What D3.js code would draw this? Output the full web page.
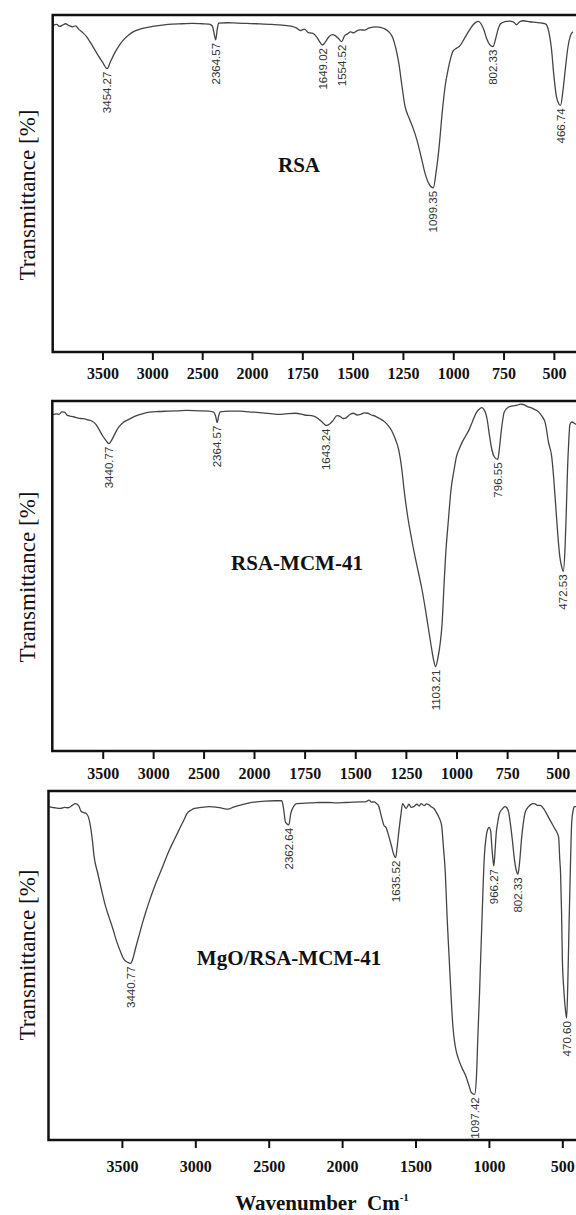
<!DOCTYPE html>
<html lang="en">
<head>
<meta charset="utf-8">
<title>FTIR spectra</title>
<script src="https://d3js.org/d3.v7.min.js"></script>
<style>
  body { margin: 0; background: #fff; }
  .axis .tick text { font-family: "Liberation Serif", serif; font-weight: bold; font-size: 16px; fill: #111; }
  .axis .tick line { stroke: #111; stroke-width: 2; }
  .frame { fill: none; stroke: #111; stroke-width: 2.5; }
  .spectrum { fill: none; stroke: #444; stroke-width: 1.3; }
  .peak { font-family: "Liberation Sans", sans-serif; font-size: 11.5px; fill: #333; }
  .title { font-family: "Liberation Serif", serif; font-weight: bold; font-size: 21px; fill: #111; }
  .ylabel { font-family: "Liberation Serif", serif; font-size: 23px; fill: #111; }
  .xlabel { font-family: "Liberation Serif", serif; font-weight: bold; font-size: 21px; fill: #111; }
</style>
</head>
<body>
<script>
// tick labels
var ticksExpanded = [3500, 3000, 2500, 2000, 1750, 1500, 1250, 1000, 750, 500];
var ticksLinear = [3500, 3000, 2500, 2000, 1500, 1000, 500];

// RSA spectrum (wavenumber cm-1, transmittance % of panel)
var rsaWave = [4000, 3960, 3930, 3900, 3870, 3840, 3800, 3770, 3740, 3700, 3660, 3620, 3580, 3540, 3500, 3454.27,
  3420, 3380, 3340, 3290, 3240, 3180, 3100, 3000, 2900, 2800, 2700, 2600, 2500, 2430, 2400, 2380, 2364.57, 2350, 2335,
  2250, 2150, 2050, 1980, 1900, 1850, 1800, 1780, 1760, 1740, 1720, 1700, 1680, 1665, 1649.02, 1635, 1620, 1600, 1585,
  1570, 1554.52, 1540, 1525, 1510, 1495, 1480, 1460, 1440, 1420, 1400, 1380, 1360, 1340, 1320, 1300, 1285, 1270, 1255,
  1240, 1220, 1200, 1180, 1160, 1140, 1120, 1099.35, 1085, 1070, 1055, 1040, 1025, 1010, 1000, 985, 965, 945, 925, 905,
  888, 875, 862, 848, 835, 820, 802.33, 790, 778, 765, 745, 720, 700, 685, 670, 650, 620, 590, 560, 540, 525, 512, 500,
  488, 475, 466.74, 455, 443, 430, 418, 405];
var rsaTrans = [96.8, 97.2, 96.6, 97.0, 97.4, 96.9, 96.5, 96.8, 95.8, 94.8, 93.6, 91.8, 89.8, 87.8, 86.0, 84.1,
  86.2, 88.6, 90.6, 92.6, 94.0, 95.2, 96.0, 96.6, 97.0, 97.3, 97.4, 97.5, 97.4, 97.3, 96.8, 94.5, 92.6, 95.5, 97.6,
  97.7, 97.6, 97.5, 97.4, 97.2, 97.0, 96.6, 96.2, 95.4, 95.8, 94.8, 94.6, 93.6, 92.2, 91.1, 92.0, 93.4, 94.2, 93.8,
  93.0, 92.1, 93.8, 94.4, 95.0, 94.7, 95.3, 95.6, 95.5, 96.1, 96.4, 96.5, 96.3, 95.9, 95.0, 93.2, 90.0, 85.5, 79.0,
  73.0, 69.5, 66.5, 62.8, 58.0, 53.0, 49.8, 48.7, 53.5, 61.0, 71.0, 79.0, 84.0, 87.8, 89.4, 90.1, 91.0, 93.0, 95.0, 96.8,
  97.8, 98.1, 97.4, 95.6, 93.2, 91.3, 90.6, 92.8, 95.6, 97.4, 98.0, 98.2, 97.9, 97.1, 98.0, 98.3, 98.0, 97.8, 97.6, 97.3, 95.0, 90.0, 82.0,
  76.0, 73.6, 73.2, 77.5, 84.0, 90.5, 93.8, 95.0];
var rsaPeaks = [3454.27, 2364.57, 1649.02, 1554.52, 1099.35, 802.33, 466.74];

// RSA-MCM-41 spectrum
var mcmWave = [4000, 3960, 3933, 3905, 3879, 3850, 3825, 3790, 3753, 3720, 3681, 3645, 3609, 3570, 3537, 3500, 3465,
  3440.77, 3410, 3380, 3340, 3300, 3250, 3177, 3100, 3033, 2950, 2853, 2750, 2673, 2550, 2450, 2400, 2382, 2364.57,
  2350, 2335, 2250, 2133, 2050, 1973, 1920, 1866, 1830, 1795, 1750, 1705, 1680, 1660, 1643.24, 1625, 1610, 1590, 1575,
  1560, 1545, 1525, 1509, 1490, 1473, 1455, 1438, 1420, 1402, 1380, 1360, 1340, 1320, 1300, 1286, 1270, 1259, 1241,
  1223, 1205, 1188, 1170, 1155, 1140, 1125, 1113, 1103.21, 1092, 1080, 1071, 1062, 1054, 1040, 1027, 1013, 1000, 985,
  973, 955, 937, 920, 902, 885, 875, 865, 857, 848, 839, 825, 813, 796.55, 788, 780, 772, 765, 745, 723, 700, 685, 670,
  650, 634, 615, 598, 580, 562, 545, 530, 520, 510, 500, 490, 480, 472.53, 464, 458, 452, 446, 440, 430, 415, 400];
var mcmTrans = [96.0, 96.3, 96.2, 96.9, 96.8, 95.9, 95.7, 95.5, 95.2, 95.0, 94.9, 94.6, 94.3, 93.4, 91.9, 90.0, 88.6,
  87.8, 88.9, 90.6, 92.6, 93.8, 94.6, 95.7, 96.4, 96.8, 97.0, 97.1, 97.2, 97.3, 97.2, 97.1, 96.8, 95.8, 93.8,
  95.8, 96.9, 97.1, 97.1, 96.9, 96.7, 96.4, 96.2, 96.4, 96.5, 96.0, 95.7, 94.8, 93.8, 93.0, 93.5, 94.4, 95.8, 95.6,
  95.0, 95.2, 96.2, 96.5, 96.0, 96.2, 96.6, 96.5, 96.0, 95.7, 95.0, 94.3, 93.2, 91.5, 88.8, 86.2, 80.5, 74.7, 67.0,
  61.0, 55.6, 51.0, 46.0, 41.0, 35.5, 30.0, 26.0, 24.1, 26.5, 31.0, 36.5, 47.0, 55.6, 66.0, 74.7, 80.0, 84.2, 86.5,
  88.1, 90.0, 91.9, 94.3, 96.7, 97.8, 98.1, 97.6, 96.7, 94.5, 90.9, 86.0, 84.0, 83.3, 86.5, 90.9, 94.5, 96.7, 98.2, 98.6, 98.8, 99.1, 99.0,
  98.4, 98.1, 97.6, 97.1, 95.8, 93.8, 88.0, 84.2, 78.0, 70.0, 62.0, 55.6, 52.5, 51.3, 58.0, 68.0, 80.0, 88.0, 93.3, 94.0, 93.5, 93.0];
var mcmPeaks = [3440.77, 2364.57, 1643.24, 1103.21, 796.55, 472.53];

// MgO/RSA-MCM-41 spectrum
var mgoWave = [4000, 3960, 3918, 3890, 3867, 3840, 3817, 3795, 3778, 3760, 3741, 3728, 3715, 3700, 3690, 3665, 3639,
  3615, 3589, 3560, 3538, 3510, 3487, 3460, 3440.77, 3425, 3411, 3385, 3361, 3335, 3310, 3285, 3259, 3220, 3184, 3145,
  3108, 3080, 3057, 3030, 3006, 2960, 2905, 2860, 2820, 2778, 2740, 2700, 2652, 2600, 2525, 2460, 2411, 2399, 2386,
  2362.64, 2350, 2330, 2310, 2250, 2200, 2150, 2095, 2040, 1980, 1930, 1880, 1842, 1816, 1800, 1780, 1766, 1752, 1740,
  1728, 1715, 1700, 1690, 1675, 1664, 1650, 1635.52, 1625, 1614, 1600, 1588, 1575, 1563, 1545, 1530, 1512, 1490, 1475,
  1462, 1440, 1425, 1411, 1390, 1375, 1360, 1340, 1322, 1310, 1297, 1285, 1271, 1258, 1246, 1230, 1208, 1185, 1158,
  1135, 1120, 1097.42, 1085, 1075, 1064, 1056, 1045, 1031, 1020, 1011, 998, 988, 980, 975, 966.27, 958, 950, 940, 929,
  910, 891, 878, 866, 855, 841, 825, 812, 802.33, 790, 778, 765, 752, 730, 715, 702, 685, 670, 651, 625, 601, 575, 550,
  535, 525, 517, 512, 505, 500, 488, 478, 470.6, 462, 454, 445, 436, 426, 418, 405];
var mgoTrans = [95.5, 95.2, 95.0, 95.3, 95.2, 95.8, 96.4, 95.8, 94.2, 93.8, 93.5, 92.5, 90.1, 85.5, 81.4, 76.5, 71.7,
  67.5, 64.0, 60.3, 57.2, 54.0, 51.8, 50.9, 50.6, 52.0, 54.3, 58.3, 62.0, 65.6, 68.8, 71.8, 74.6, 78.6, 82.4, 85.9,
  89.1, 91.5, 93.5, 94.5, 95.0, 95.3, 95.5, 95.4, 95.1, 94.8, 95.4, 95.9, 96.4, 96.8, 97.1, 97.2, 97.2, 95.0, 91.1,
  90.3, 93.5, 95.6, 96.4, 96.5, 96.6, 96.7, 96.7, 96.6, 96.7, 96.8, 96.9, 96.9, 97.4, 96.8, 96.9, 96.4, 95.8, 94.0,
  92.0, 90.1, 89.5, 88.2, 86.0, 84.3, 82.0, 80.9, 84.0, 88.2, 93.0, 96.4, 95.6, 95.0, 96.2, 95.3, 95.5, 96.2, 95.7,
  96.4, 95.8, 96.3, 96.1, 95.4, 95.0, 94.0, 92.4, 90.1, 84.0, 76.6, 64.0, 52.3, 41.5, 32.9, 27.0, 23.3, 20.8, 18.4,
  15.5, 13.6, 13.1, 18.0, 30.0, 42.0, 52.3, 66.0, 81.4, 86.5, 88.7, 89.6, 88.5, 84.0, 81.4, 78.5, 83.0, 88.0, 91.0, 93.5,
  94.8, 95.5, 95.2, 94.0, 91.0, 86.2, 80.0, 77.0, 76.1, 80.0, 86.2, 91.0, 94.0, 95.5, 96.1, 96.4, 96.3, 95.9, 95.9, 94.8, 93.0, 91.0, 89.1,
  88.0, 86.7, 80.0, 76.6, 65.0, 52.3, 42.0, 37.0, 34.9, 46.0, 62.0, 78.0, 91.1, 94.5, 95.5, 95.5];
var mgoPeaks = [3440.77, 2362.64, 1635.52, 1097.42, 966.27, 802.33, 470.60];

var w = 576;
var h = 1215;

var panels = [
  { name: "RSA", wave: rsaWave, trans: rsaTrans, peaks: rsaPeaks, ticks: ticksExpanded,
    top: 15, bottom: 352, left: 52.7, xDomain: [4000, 2000, 400], xRange: [52.7, 252, 574],
    pad: 8, titleX: 299, titleY: 172, ylabelY: 195 },
  { name: "RSA-MCM-41", wave: mcmWave, trans: mcmTrans, peaks: mcmPeaks, ticks: ticksExpanded,
    top: 401, bottom: 751, left: 52.3, xDomain: [4000, 2000, 400], xRange: [52.3, 254, 578],
    pad: 9, titleX: 297, titleY: 570, ylabelY: 577 },
  { name: "MgO/RSA-MCM-41", wave: mgoWave, trans: mgoTrans, peaks: mgoPeaks, ticks: ticksLinear,
    top: 791, bottom: 1140, left: 48.5, xDomain: [4000, 400], xRange: [48.5, 577],
    pad: 13, titleX: 289, titleY: 965, ylabelY: 955 }
];

var svg = d3.select("body")
  .append("svg")
  .attr("width", w)
  .attr("height", h);

panels.forEach(function(p, i) {
  var xScale = d3.scaleLinear().domain(p.xDomain).range(p.xRange);
  var yScale = d3.scaleLinear().domain([0, 100]).range([p.bottom, p.top]);
  var points = p.wave.map(function(wn, k) { return [wn, p.trans[k]]; });

  // clip
  svg.append("clipPath")
    .attr("id", "clip" + i)
    .append("rect")
    .attr("x", p.left)
    .attr("y", p.top)
    .attr("width", 580 - p.left)
    .attr("height", p.bottom - p.top);

  // spectrum
  var line = d3.line()
    .x(function(d) { return xScale(d[0]); })
    .y(function(d) { return yScale(d[1]); })
    .curve(d3.curveMonotoneX);

  svg.append("path")
    .datum(points)
    .attr("class", "spectrum")
    .attr("clip-path", "url(#clip" + i + ")")
    .attr("d", line);

  // frame
  svg.append("rect")
    .attr("class", "frame")
    .attr("x", p.left)
    .attr("y", p.top)
    .attr("width", 580 - p.left)
    .attr("height", p.bottom - p.top);

  // x axis
  var xAxis = d3.axisBottom(xScale)
    .tickValues(p.ticks)
    .tickSize(8)
    .tickPadding(p.pad)
    .tickFormat(d3.format("d"));

  var g = svg.append("g")
    .attr("class", "axis")
    .attr("transform", "translate(0," + p.bottom + ")")
    .call(xAxis);
  g.select(".domain").remove();

  // peak labels
  p.peaks.forEach(function(pk) {
    var best = d3.least(points, function(d) { return Math.abs(d[0] - pk); });
    var px = xScale(pk);
    var py = yScale(best[1]) + 3;
    svg.append("text")
      .attr("class", "peak")
      .attr("transform", "translate(" + px + "," + py + ") rotate(-90)")
      .attr("dy", "0.35em")
      .attr("text-anchor", "end")
      .text(pk.toFixed(2));
  });

  // sample name
  svg.append("text")
    .attr("class", "title")
    .attr("x", p.titleX)
    .attr("y", p.titleY)
    .attr("text-anchor", "middle")
    .text(p.name);

  // y label
  svg.append("text")
    .attr("class", "ylabel")
    .attr("transform", "translate(27," + p.ylabelY + ") rotate(-90)")
    .attr("dy", "0.35em")
    .attr("text-anchor", "middle")
    .text("Transmittance [%]");
});

// x axis title
var xl = svg.append("text")
  .attr("class", "xlabel")
  .attr("x", 322)
  .attr("y", 1210)
  .attr("text-anchor", "middle");
xl.append("tspan").text("Wavenumber\u00a0\u00a0Cm");
xl.append("tspan")
  .attr("font-size", "11px")
  .attr("dy", "-9")
  .text("-1");
</script>
</body>
</html>
